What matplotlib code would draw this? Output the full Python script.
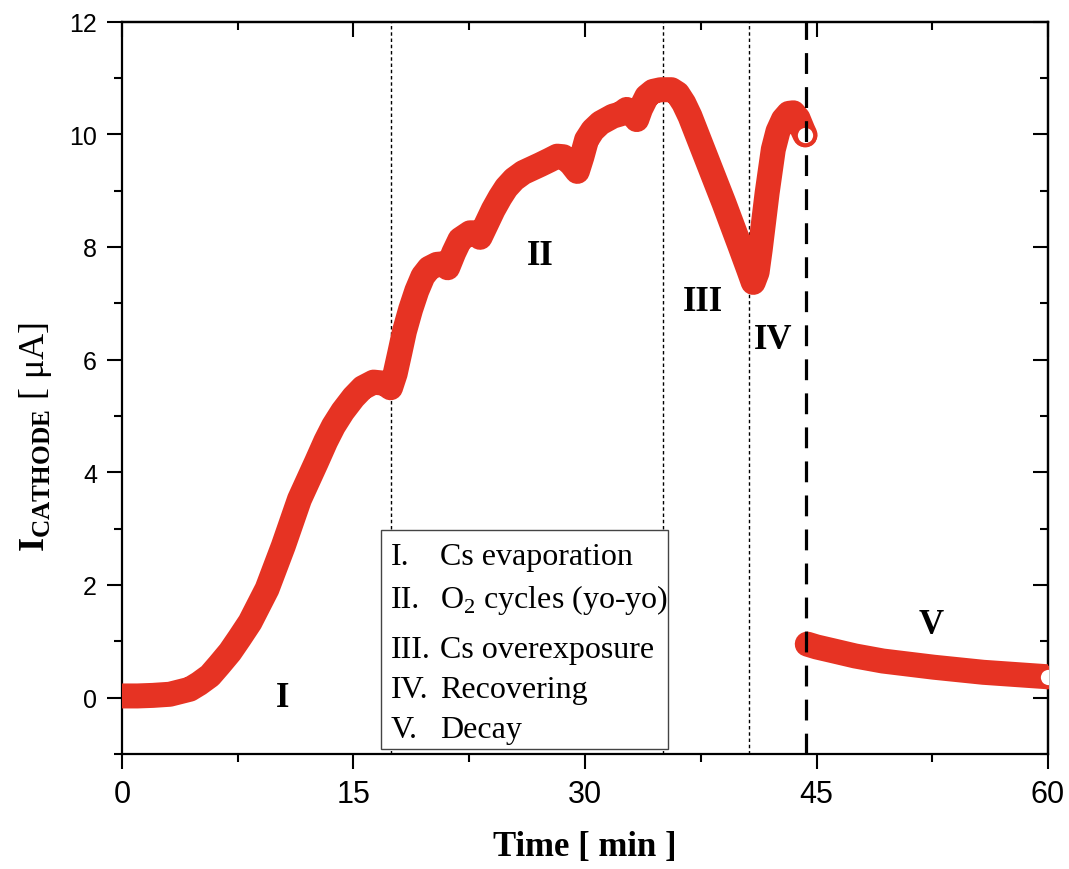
import matplotlib
matplotlib.use('Agg')
import matplotlib.pyplot as plt
from matplotlib.ticker import MultipleLocator
from matplotlib.patches import Rectangle

#==============================================
# data
t_act = [0, 1, 2, 3.1, 4.4, 5.0, 5.7, 6.3, 7.0, 7.6, 8.3, 9.4, 10.45, 11.5,
         12.6, 13.2, 13.7, 14.3, 15.0, 15.6, 16.3, 17.0, 17.4, 17.7, 18.0, 18.3,
         18.7, 19.1, 19.5, 19.9, 20.4, 20.8, 21.1, 21.5, 21.9, 22.55, 22.9,
         23.2, 23.6, 24.05, 24.5, 24.9, 25.4, 26.0, 27.1, 27.7, 28.2, 28.6,
         29.1, 29.5, 29.8, 30.1, 30.5, 31.0, 31.8, 32.3, 32.7, 33.0, 33.35,
         33.6, 34.0, 34.4, 34.9, 35.6, 36.0, 36.4, 36.8, 37.9, 39.0, 40.05,
         40.6, 40.9, 41.15, 41.35, 41.8, 42.2, 42.5, 42.85, 43.2, 43.5, 43.8,
         44.1, 44.25]
i_act = [0.03, 0.03, 0.04, 0.06, 0.15, 0.25, 0.39, 0.58, 0.81, 1.05, 1.34,
         1.93, 2.69, 3.52, 4.18, 4.55, 4.82, 5.08, 5.33, 5.5, 5.6, 5.58, 5.5, 5.75,
         6.12, 6.5, 6.89, 7.22, 7.48, 7.62, 7.69, 7.7, 7.63, 7.9, 8.13, 8.25,
         8.25, 8.17, 8.4, 8.66, 8.88, 9.05, 9.2, 9.32, 9.46, 9.54, 9.61, 9.6,
         9.48, 9.34, 9.6, 9.9, 10.07, 10.2, 10.32, 10.36, 10.44, 10.4, 10.26,
         10.45, 10.67, 10.76, 10.79, 10.79, 10.72, 10.55, 10.32, 9.55, 8.78,
         8.01, 7.6, 7.37, 7.55, 7.95, 8.96, 9.73, 10.05, 10.26, 10.37, 10.38,
         10.28, 10.08, 9.99]

t_decay = [44.4, 45.0, 46.1, 47.5, 49.3, 52.6, 55.8, 60.0]
i_decay = [0.95, 0.9, 0.83, 0.74, 0.65, 0.54, 0.45, 0.37]

phase_bounds = [17.4, 35.05, 40.6]
cut_time = 44.3

phase_names = ['I', 'II', 'III', 'IV', 'V']
phase_x = [10.4, 27.1, 37.65, 42.2, 52.4]
phase_y = [0.0, 7.85, 7.03, 6.36, 1.3]

legend_num = ['I.', 'II.', 'III.', 'IV.', 'V.']
legend_txt = ['Cs evaporation', r'O$_2$ cycles (yo-yo)', 'Cs overexposure',
              'Recovering', 'Decay']

#==============================================
plt.rcParams['mathtext.fontset'] = 'custom'
plt.rcParams['mathtext.rm'] = 'Liberation Serif'
plt.rcParams['mathtext.bf'] = 'Liberation Serif:bold'
plt.rcParams['lines.scale_dashes'] = False

red = '#E63323'
serif = 'Liberation Serif'

fig = plt.figure(figsize=(10.69, 8.70), dpi=100)
ax = fig.add_axes([0.1141, 0.1322, 0.8663, 0.8419])

for xb in phase_bounds:
    ax.axvline(xb, color='black', lw=1.0, dashes=(2.5, 2.0), zorder=1)
ax.axvline(cut_time, color='black', lw=2.3, dashes=(15, 9.5), zorder=4)

ax.plot(t_act, i_act, color=red, lw=18, solid_capstyle='round',
        solid_joinstyle='round', zorder=3)
ax.plot(t_decay, i_decay, color=red, lw=18, solid_capstyle='round',
        solid_joinstyle='round', zorder=3)
ax.plot(t_act[-1], i_act[-1], 'o', ms=14, mfc='white', mec=red, mew=3, zorder=3)
ax.plot(t_decay[-1], i_decay[-1], 'o', ms=14, mfc='white', mec=red, mew=3, zorder=3)

for name, x, y in zip(phase_names, phase_x, phase_y):
    ax.text(x, y, name, family=serif, weight='bold', fontsize=25,
            ha='center', va='center', zorder=6)

# legend box
ax.add_patch(Rectangle((16.8, -0.91), 18.6, 3.89, facecolor='white',
                       edgecolor='#444444', lw=1.0, zorder=5))
leg_y = [2.5, 1.75, 0.86, 0.15, -0.56]
for n, s, y in zip(legend_num, legend_txt, leg_y):
    ax.text(17.43, y, n, family=serif, fontsize=23, ha='left', va='center', zorder=6)
    ax.text(20.6, y, s, family=serif, fontsize=23, ha='left', va='center', zorder=6)

ax.set_xlim(0, 60)
ax.set_ylim(-1, 12)
ax.set_xticks([0, 15, 30, 45, 60])
ax.xaxis.set_minor_locator(MultipleLocator(7.5))
ax.set_yticks([0, 2, 4, 6, 8, 10, 12])
ax.yaxis.set_minor_locator(MultipleLocator(1))
ax.tick_params(which='major', length=11, width=1.5, direction='out', pad=7)
ax.tick_params(which='minor', length=6, width=1.5, direction='out')
for lab in ax.get_yticklabels():
    lab.set_family('Liberation Sans')
    lab.set_fontsize(18)
for lab in ax.get_xticklabels():
    lab.set_family('Liberation Sans')
    lab.set_fontsize(22)
for sp in ax.spines.values():
    sp.set_linewidth(1.6)

top = ax.secondary_xaxis('top')
top.set_xticks([0, 15, 30, 45, 60])
top.xaxis.set_minor_locator(MultipleLocator(7.5))
top.tick_params(which='major', length=11, width=1.5, direction='in', labeltop=False)
top.tick_params(which='minor', length=6, width=1.5, direction='in')
top.spines['top'].set_linewidth(1.6)

right = ax.secondary_yaxis('right')
right.set_yticks([0, 2, 4, 6, 8, 10, 12])
right.yaxis.set_minor_locator(MultipleLocator(1))
right.tick_params(which='major', length=11, width=1.5, direction='in', labelright=False)
right.tick_params(which='minor', length=6, width=1.5, direction='in')
right.spines['right'].set_linewidth(1.6)

fig.text(0.547, 0.026, 'Time [ min ]', family=serif, weight='bold',
         fontsize=25, ha='center', va='center')
fig.text(0.033, 0.498, r'$\mathbf{I}_{\mathbf{CATHODE}}$ [ μA]', family=serif,
         fontsize=26, rotation=90, ha='center', va='center')

fig.savefig('out.png', dpi=100)
